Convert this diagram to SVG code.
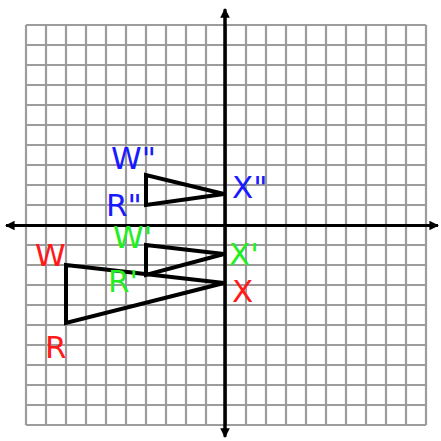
<svg xmlns="http://www.w3.org/2000/svg" width="441" height="441" viewBox="0 0 441 441">
<defs>
<style>
.grid line{stroke:#9c9c9c;stroke-width:2.2}
.axis{stroke:#000;stroke-width:3}
.tri{fill:none;stroke:#000;stroke-width:4;stroke-linejoin:miter}
text{font-family:"DejaVu Sans","Liberation Sans",sans-serif;font-size:31px}
.r{fill:#ff1a1a}.g{fill:#22ee22}.b{fill:#1a1aff}
</style>
<marker id="ah" viewBox="0 0 10 10" refX="9" refY="5" markerWidth="3.2" markerHeight="3.2" orient="auto" markerUnits="strokeWidth">
<path d="M0,0 L10,5 L0,10 z" fill="#000"/>
</marker>
</defs>
<rect width="441" height="441" fill="#fff"/>
<g class="grid">
<line x1="26" y1="25" x2="26" y2="425"/><line x1="46" y1="25" x2="46" y2="425"/><line x1="66" y1="25" x2="66" y2="425"/><line x1="86" y1="25" x2="86" y2="425"/><line x1="106" y1="25" x2="106" y2="425"/><line x1="126" y1="25" x2="126" y2="425"/><line x1="146" y1="25" x2="146" y2="425"/><line x1="166" y1="25" x2="166" y2="425"/><line x1="186" y1="25" x2="186" y2="425"/><line x1="206" y1="25" x2="206" y2="425"/><line x1="226" y1="25" x2="226" y2="425"/><line x1="246" y1="25" x2="246" y2="425"/><line x1="266" y1="25" x2="266" y2="425"/><line x1="286" y1="25" x2="286" y2="425"/><line x1="306" y1="25" x2="306" y2="425"/><line x1="326" y1="25" x2="326" y2="425"/><line x1="346" y1="25" x2="346" y2="425"/><line x1="366" y1="25" x2="366" y2="425"/><line x1="386" y1="25" x2="386" y2="425"/><line x1="406" y1="25" x2="406" y2="425"/><line x1="426" y1="25" x2="426" y2="425"/>
<line x1="26" y1="25" x2="426" y2="25"/><line x1="26" y1="45" x2="426" y2="45"/><line x1="26" y1="65" x2="426" y2="65"/><line x1="26" y1="85" x2="426" y2="85"/><line x1="26" y1="105" x2="426" y2="105"/><line x1="26" y1="125" x2="426" y2="125"/><line x1="26" y1="145" x2="426" y2="145"/><line x1="26" y1="165" x2="426" y2="165"/><line x1="26" y1="185" x2="426" y2="185"/><line x1="26" y1="205" x2="426" y2="205"/><line x1="26" y1="225" x2="426" y2="225"/><line x1="26" y1="245" x2="426" y2="245"/><line x1="26" y1="265" x2="426" y2="265"/><line x1="26" y1="285" x2="426" y2="285"/><line x1="26" y1="305" x2="426" y2="305"/><line x1="26" y1="325" x2="426" y2="325"/><line x1="26" y1="345" x2="426" y2="345"/><line x1="26" y1="365" x2="426" y2="365"/><line x1="26" y1="385" x2="426" y2="385"/><line x1="26" y1="405" x2="426" y2="405"/><line x1="26" y1="425" x2="426" y2="425"/>
</g>
<g id="axes">
<line class="axis" x1="225" y1="433" x2="225" y2="9" marker-end="url(#ah)"/>
<line class="axis" x1="225" y1="17" x2="225" y2="437" marker-end="url(#ah)"/>
<line class="axis" x1="435" y1="225.5" x2="6" y2="225.5" marker-end="url(#ah)"/>
<line class="axis" x1="15" y1="225.5" x2="438" y2="225.5" marker-end="url(#ah)"/>
</g>
<g id="triangle-RWX">
<polygon class="tri" points="66,265 66,323 224,283"/>
<text class="r" x="35" y="266">W</text>
<text class="r" x="45" y="358">R</text>
<text class="r" x="232" y="302">X</text>
</g>
<g id="triangle-RWX-prime">
<polygon class="tri" points="146,245 146,275 224,254"/>
<text class="g" x="113" y="248">W'</text>
<text class="g" x="108" y="292">R'</text>
<text class="g" x="229" y="265">X'</text>
</g>
<g id="triangle-RWX-double-prime">
<polygon class="tri" points="146,175 146,205 224,194"/>
<text class="b" x="111" y="169">W"</text>
<text class="b" x="106" y="216">R"</text>
<text class="b" x="232" y="198">X"</text>
</g>
</svg>
